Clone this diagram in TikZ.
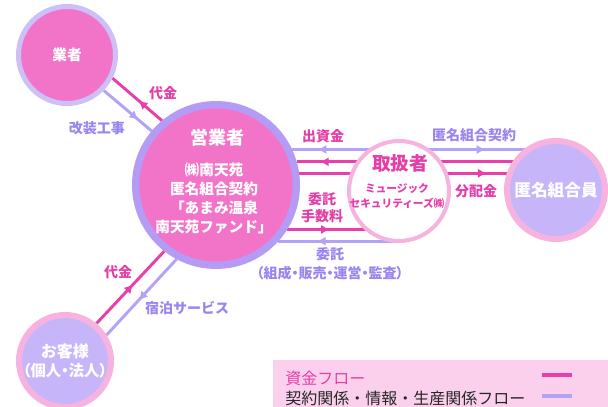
\documentclass[tikz,border=0pt]{standalone}
\usepackage{fontspec}
\setmainfont{Noto Sans CJK JP}
\newfontfamily\tightfont[CharacterWidth=AlternateProportional]{Noto Sans CJK JP}
\usepackage{xcolor}
\usetikzlibrary{arrows.meta,decorations.markings,backgrounds}

\definecolor{moneypink}{HTML}{E93FAA}
\definecolor{infolav}{HTML}{B4A2F8}
\definecolor{ballpink}{HTML}{F274C9}
\definecolor{balllav}{HTML}{C6B6F9}
\definecolor{ringlav}{HTML}{CDBFF7}
\definecolor{ringdeep}{HTML}{B49CF6}
\definecolor{ringpink}{HTML}{F7B3DF}
\definecolor{txtpink}{HTML}{E43FA8}
\definecolor{txtlav}{HTML}{9A84F0}
\definecolor{legendbg}{HTML}{FAD0EC}

\begin{document}
\begin{tikzpicture}[x=0.75pt,y=-0.75pt]
\tikzstyle{ball}=[circle,inner sep=0pt,align=center,text=white]
\tikzstyle{money}=[moneypink,line width=2.2pt]
\tikzstyle{info}=[infolav,line width=2.2pt]
\tikzstyle{lbl}=[font=\bfseries\fontsize{10.5}{12.75}\selectfont,align=center]
\tikzset{arrowat/.style={postaction={decorate},decoration={markings,mark=at position #1 with {\arrow{Latex[length=6.5pt,width=7pt]}}}}}

\useasboundingbox (0,0) rectangle (608,407);

% parties
\node[ball,fill=ballpink,draw=ringlav,line width=3.75pt,minimum size=72.75pt,font=\bfseries\fontsize{11}{13}\selectfont] (gyosha) at (67,55) {業者};
\node[ball,fill=ballpink,draw=ringdeep,line width=5.5pt,minimum size=120.5pt] (eigyo) at (216,185) {};
\node[text=white,font=\bfseries\fontsize{13.5}{16}\selectfont] (eigyotitle) at (217,138) {営業者};
\node[text=white,align=center,font=\bfseries\fontsize{11}{14.25}\selectfont] (eigyotxt) at (214,198) {㈱南天苑\\匿名組合契約\\「あまみ温泉\\南天苑ファンド」};
\node[ball,fill=white,draw=ringpink,line width=3pt,minimum size=75pt] (tori) at (399,191) {};
\node[text=txtpink,font=\bfseries\fontsize{14}{16}\selectfont] (torititle) at (400,163) {取扱者};
\node[text=txtpink,align=center,font=\bfseries\fontsize{8}{11.25}\selectfont] (toritxt) at (397,196) {ミュージック\\セキュリティーズ㈱};
\node[ball,fill=balllav,draw=ringpink,line width=4.5pt,minimum size=73.5pt,font=\bfseries\fontsize{12.5}{14}\selectfont] (kumiai) at (556,190) {匿名組合員};
\node[ball,fill=balllav,draw=ringpink,line width=4.5pt,minimum size=69pt,font=\bfseries\fontsize{12}{14.25}\selectfont] (okyaku) at (65,361) {お客様\\{\tightfont\fontsize{11.5}{14.25}\selectfont （個人・法人）}};

% flows
\begin{scope}[on background layer]
\path (eigyo.130) edge[money,arrowat=0.47] (gyosha.-27)
      (gyosha.-44) edge[info,arrowat=0.72] (eigyo.140)
      (okyaku.50) edge[money,arrowat=0.54] (eigyo.232)
      (eigyo.242) edge[info,arrowat=0.54] (okyaku.32)
      (eigyo.25 -| tori.center) edge[info,arrowat=0.76] (eigyo.25)
      (eigyo.25 -| tori.center) edge[info,arrowat=0.55] (eigyo.25 -| kumiai.center)
      (eigyo.16 -| kumiai.center) edge[money,arrowat=0.91] (eigyo.16)
      (eigyo.8) edge[money,arrowat=0.73] (eigyo.8 -| kumiai.center)
      (eigyo.-32) edge[money,arrowat=0.38] (eigyo.-32 -| tori.center)
      (eigyo.-42 -| tori.center) edge[info,arrowat=0.68] (eigyo.-42);
\end{scope}

% labels
\node[lbl,text=txtpink] (daikinup) at (163,93) {代金};
\node[lbl,text=txtlav] (kaiso) at (97,128) {改装工事};
\node[lbl,text=txtpink] (shusshi) at (323,136) {出資金};
\node[lbl,text=txtlav] (keiyaku) at (474,135) {匿名組合契約};
\node[lbl,text=txtpink] (haibun) at (476,191) {分配金};
\node[lbl,text=txtpink] (tesuryo) at (322,208) {委託\\手数料};
\node[lbl,text=txtlav,font=\bfseries\fontsize{10.5}{14.25}\selectfont] (itaku) at (330,264) {委託\\{\tightfont （組成・販売・運営・監査）}};
\node[lbl,text=txtpink] (daikindown) at (118,272) {代金};
\node[lbl,text=txtlav] (shukuhaku) at (187,308) {宿泊サービス};

% legend
\fill[legendbg] (273,360) rectangle (608,407);
\node[anchor=west,inner sep=0pt,text=txtpink,font=\fontsize{12}{14}\selectfont] (legmoney) at (285,378) {資金フロー};
\node[anchor=west,inner sep=0pt,text=black!85,font=\fontsize{12}{14}\selectfont] (leginfo) at (285,398) {契約関係・情報・生産関係フロー};
\draw[moneypink,line width=3pt] (542,375) -- (572,375);
\draw[infolav,line width=3pt] (542,396) -- (572,396);
\end{tikzpicture}
\end{document}
